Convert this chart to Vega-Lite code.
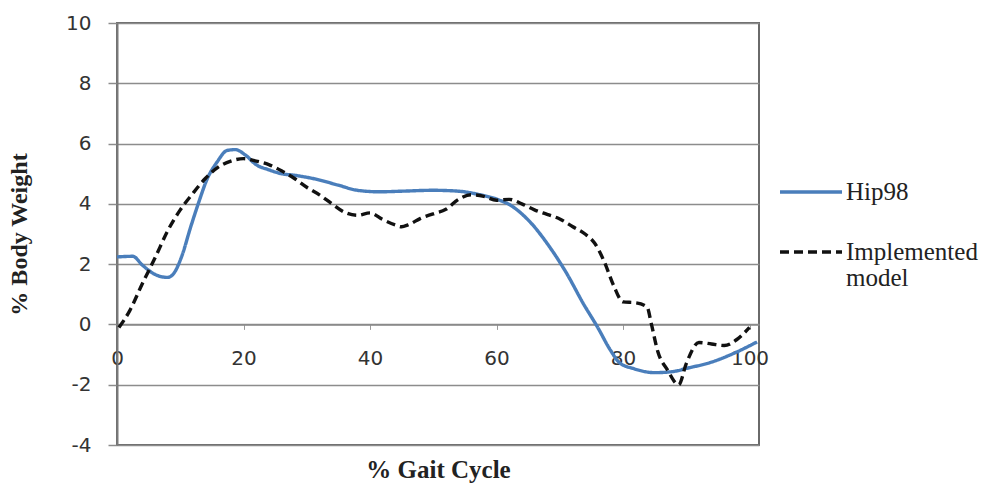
{
  "$schema": "https://vega.github.io/schema/vega-lite/v6.json",
  "width": 642,
  "height": 422,
  "autosize": {"type": "none"},
  "padding": {"left": 117, "top": 23, "right": 242, "bottom": 42},
  "background": "white",
  "config": {
    "view": {"stroke": "#6a6a6a", "strokeWidth": 2}
  },
  "data": {
    "values": [
      {"x": 0, "y": 2.24, "series": "Hip98"},
      {"x": 2.5, "y": 2.26, "series": "Hip98"},
      {"x": 4, "y": 1.97, "series": "Hip98"},
      {"x": 6, "y": 1.66, "series": "Hip98"},
      {"x": 8, "y": 1.56, "series": "Hip98"},
      {"x": 9, "y": 1.7, "series": "Hip98"},
      {"x": 10.3, "y": 2.3, "series": "Hip98"},
      {"x": 11.6, "y": 3.2, "series": "Hip98"},
      {"x": 13, "y": 4.1, "series": "Hip98"},
      {"x": 14.2, "y": 4.8, "series": "Hip98"},
      {"x": 15.8, "y": 5.38, "series": "Hip98"},
      {"x": 17.4, "y": 5.77, "series": "Hip98"},
      {"x": 18.7, "y": 5.8, "series": "Hip98"},
      {"x": 20.3, "y": 5.62, "series": "Hip98"},
      {"x": 22, "y": 5.3, "series": "Hip98"},
      {"x": 24, "y": 5.13, "series": "Hip98"},
      {"x": 26, "y": 5.0, "series": "Hip98"},
      {"x": 28, "y": 4.95, "series": "Hip98"},
      {"x": 31, "y": 4.84, "series": "Hip98"},
      {"x": 35, "y": 4.62, "series": "Hip98"},
      {"x": 38, "y": 4.45, "series": "Hip98"},
      {"x": 41.5, "y": 4.4, "series": "Hip98"},
      {"x": 45, "y": 4.42, "series": "Hip98"},
      {"x": 50, "y": 4.45, "series": "Hip98"},
      {"x": 54, "y": 4.42, "series": "Hip98"},
      {"x": 57, "y": 4.32, "series": "Hip98"},
      {"x": 60.5, "y": 4.12, "series": "Hip98"},
      {"x": 62, "y": 3.98, "series": "Hip98"},
      {"x": 65.3, "y": 3.4, "series": "Hip98"},
      {"x": 68.4, "y": 2.57, "series": "Hip98"},
      {"x": 71.1, "y": 1.69, "series": "Hip98"},
      {"x": 73.7, "y": 0.7, "series": "Hip98"},
      {"x": 76, "y": -0.1, "series": "Hip98"},
      {"x": 78, "y": -0.85, "series": "Hip98"},
      {"x": 79.5, "y": -1.28, "series": "Hip98"},
      {"x": 81.6, "y": -1.46, "series": "Hip98"},
      {"x": 85, "y": -1.6, "series": "Hip98"},
      {"x": 88, "y": -1.56, "series": "Hip98"},
      {"x": 90, "y": -1.46, "series": "Hip98"},
      {"x": 94, "y": -1.25, "series": "Hip98"},
      {"x": 97.5, "y": -0.96, "series": "Hip98"},
      {"x": 101.2, "y": -0.58, "series": "Hip98"},

      {"x": 0.3, "y": -0.1, "series": "Implemented model"},
      {"x": 2, "y": 0.45, "series": "Implemented model"},
      {"x": 4, "y": 1.35, "series": "Implemented model"},
      {"x": 6, "y": 2.2, "series": "Implemented model"},
      {"x": 8, "y": 3.1, "series": "Implemented model"},
      {"x": 10, "y": 3.8, "series": "Implemented model"},
      {"x": 12, "y": 4.35, "series": "Implemented model"},
      {"x": 14, "y": 4.85, "series": "Implemented model"},
      {"x": 16, "y": 5.22, "series": "Implemented model"},
      {"x": 18, "y": 5.42, "series": "Implemented model"},
      {"x": 20, "y": 5.5, "series": "Implemented model"},
      {"x": 22, "y": 5.42, "series": "Implemented model"},
      {"x": 24, "y": 5.3, "series": "Implemented model"},
      {"x": 26, "y": 5.1, "series": "Implemented model"},
      {"x": 28, "y": 4.85, "series": "Implemented model"},
      {"x": 30, "y": 4.55, "series": "Implemented model"},
      {"x": 32, "y": 4.3, "series": "Implemented model"},
      {"x": 34, "y": 4.0, "series": "Implemented model"},
      {"x": 36, "y": 3.72, "series": "Implemented model"},
      {"x": 38, "y": 3.62, "series": "Implemented model"},
      {"x": 40, "y": 3.7, "series": "Implemented model"},
      {"x": 42, "y": 3.48, "series": "Implemented model"},
      {"x": 44, "y": 3.3, "series": "Implemented model"},
      {"x": 45, "y": 3.24, "series": "Implemented model"},
      {"x": 46, "y": 3.3, "series": "Implemented model"},
      {"x": 48, "y": 3.52, "series": "Implemented model"},
      {"x": 50, "y": 3.67, "series": "Implemented model"},
      {"x": 52, "y": 3.82, "series": "Implemented model"},
      {"x": 54, "y": 4.15, "series": "Implemented model"},
      {"x": 56, "y": 4.3, "series": "Implemented model"},
      {"x": 58, "y": 4.25, "series": "Implemented model"},
      {"x": 60, "y": 4.12, "series": "Implemented model"},
      {"x": 62, "y": 4.15, "series": "Implemented model"},
      {"x": 64, "y": 4.0, "series": "Implemented model"},
      {"x": 66, "y": 3.8, "series": "Implemented model"},
      {"x": 68, "y": 3.65, "series": "Implemented model"},
      {"x": 70, "y": 3.5, "series": "Implemented model"},
      {"x": 72, "y": 3.25, "series": "Implemented model"},
      {"x": 74, "y": 3.0, "series": "Implemented model"},
      {"x": 75.5, "y": 2.7, "series": "Implemented model"},
      {"x": 77, "y": 2.1, "series": "Implemented model"},
      {"x": 78.5, "y": 1.3, "series": "Implemented model"},
      {"x": 80, "y": 0.75, "series": "Implemented model"},
      {"x": 82, "y": 0.72, "series": "Implemented model"},
      {"x": 83.8, "y": 0.58, "series": "Implemented model"},
      {"x": 84.5, "y": 0.0, "series": "Implemented model"},
      {"x": 85.5, "y": -0.9, "series": "Implemented model"},
      {"x": 87, "y": -1.5, "series": "Implemented model"},
      {"x": 88.8, "y": -2.0, "series": "Implemented model"},
      {"x": 90, "y": -1.3, "series": "Implemented model"},
      {"x": 92, "y": -0.6, "series": "Implemented model"},
      {"x": 94, "y": -0.65, "series": "Implemented model"},
      {"x": 96, "y": -0.7, "series": "Implemented model"},
      {"x": 98, "y": -0.5, "series": "Implemented model"},
      {"x": 100, "y": -0.1, "series": "Implemented model"}
    ]
  },
  "mark": {"type": "line", "interpolate": "monotone", "strokeWidth": 3.4, "strokeCap": "butt"},
  "encoding": {
    "x": {
      "field": "x",
      "type": "quantitative",
      "scale": {"domain": [0, 101.5], "nice": false, "zero": false},
      "axis": {
        "title": "% Gait Cycle",
        "values": [0, 20, 40, 60, 80, 100],
        "offset": -120.6,
        "grid": false,
        "domain": true,
        "domainColor": "#8a8a8a",
        "domainWidth": 1.5,
        "ticks": true,
        "tickSize": 5,
        "tickColor": "#9a9a9a",
        "tickWidth": 1,
        "labelFont": "DejaVu Sans",
        "labelFontSize": 20,
        "labelColor": "#333333",
        "labelPadding": 19,
        "labelFlush": false,
        "titleFont": "Liberation Serif",
        "titleFontWeight": "bold",
        "titleFontSize": 25,
        "titleColor": "#222222",
        "titlePadding": 89
      }
    },
    "y": {
      "field": "y",
      "type": "quantitative",
      "scale": {"domain": [-4, 10], "nice": false, "zero": false},
      "axis": {
        "title": "% Body Weight",
        "values": [-4, -2, 0, 2, 4, 6, 8, 10],
        "labelExpr": "datum.value < 0 ? '-' + abs(datum.value) : '' + datum.value",
        "grid": true,
        "gridColor": "#8c8c8c",
        "gridWidth": 1.5,
        "domainColor": "#7a7a7a",
        "domainWidth": 2,
        "tickColor": "#8c8c8c",
        "tickSize": 9,
        "tickWidth": 1.5,
        "labelFont": "DejaVu Sans",
        "labelFontSize": 20,
        "labelColor": "#333333",
        "labelPadding": 17,
        "titleFont": "Liberation Serif",
        "titleFontWeight": "bold",
        "titleFontSize": 24,
        "titleColor": "#222222",
        "titlePadding": 34
      }
    },
    "color": {
      "field": "series",
      "type": "nominal",
      "scale": {"domain": ["Hip98", "Implemented model"], "range": ["#4a7ebb", "#111111"]},
      "legend": {
        "title": null,
        "orient": "none",
        "legendX": 661,
        "legendY": 136,
        "symbolType": "stroke",
        "symbolSize": 3844,
        "symbolStrokeWidth": 3.3,
        "labelFont": "Liberation Serif",
        "labelFontSize": 25,
        "labelColor": "#222222",
        "labelLimit": 400,
        "labelOffset": 2,
        "labelExpr": "datum.label == 'Implemented model' ? ['Implemented', 'model'] : datum.label",
        "rowPadding": 14,
        "encode": {"labels": {"update": {"lineHeight": {"value": 26}}}}
      }
    },
    "strokeDash": {
      "field": "series",
      "type": "nominal",
      "scale": {"domain": ["Hip98", "Implemented model"], "range": [[1, 0], [9, 5]]}
    }
  }
}
